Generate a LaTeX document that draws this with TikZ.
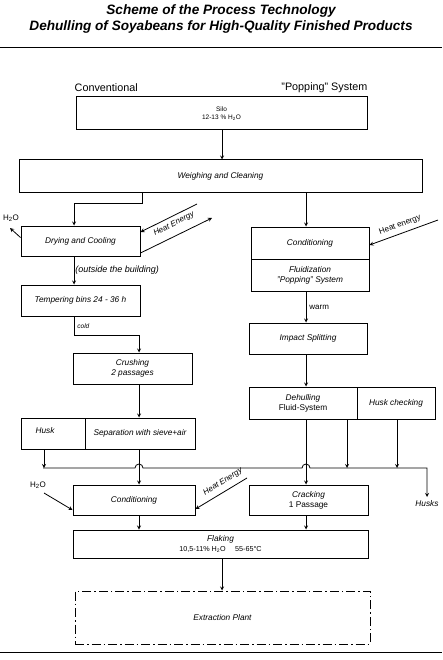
\documentclass[tikz,border=0pt]{standalone}
\usepackage{fontspec}
\setmainfont{Liberation Sans}
\usetikzlibrary{arrows,positioning,calc}

\begin{document}
\begin{tikzpicture}[>=stealth, x=1pt, y=-1pt, line width=0.8pt,
  box/.style={draw, line width=1pt, inner sep=1pt, align=center,
              font=\fontsize{8.3}{10}\selectfont\itshape},
  lbl/.style={inner sep=1pt, font=\fontsize{8.3}{10}\selectfont\itshape},
  uplbl/.style={inner sep=1pt, font=\fontsize{8}{10}\selectfont}]
\useasboundingbox (0,0) rectangle (442,660);

% title
\node[align=center, font=\fontsize{13.6}{16}\selectfont\bfseries\itshape] (title) at (221,19)
  {Scheme of the Process Technology\\Dehulling of Soyabeans for High-Quality Finished Products};
\draw[line width=1pt] (0,48) -- (442,48);
\draw[line width=1pt] (0,652) -- (442,652);

\node[anchor=west, font=\fontsize{10.8}{12}\selectfont] (conv) at (71,88) {Conventional};
\node[anchor=east, font=\fontsize{10.8}{12}\selectfont] (pop) at (371,88) {"Popping" System};

% boxes
\node[box,minimum width=291,minimum height=33,font=\fontsize{6.5}{8.5}\selectfont] (silo) at (221.5,113.5) {Silo\\12-13 \% H\textsubscript{2}O};
\node[box,minimum width=403,minimum height=33] (weigh) at (220.5,176.5) {Weighing and Cleaning};

\node[box,minimum width=119,minimum height=30] (dry) at (80.5,241) {Drying and Cooling};
\node[box,minimum width=119,minimum height=31] (temper) at (80.5,300.5) {Tempering bins 24 - 36 h};
\node[box,minimum width=119,minimum height=31] (crush) at (132.5,368.5) {Crushing\\2 passages};
\node[box,minimum width=64,minimum height=31] (husk) at (53,433.5) {\raisebox{6pt}{Husk}\hspace{16pt}};
\node[box,minimum width=110,minimum height=31] (sep) at (140,433.5) {Separation with sieve+air};

\node[box,minimum width=118,minimum height=32] (cond) at (310,243) {Conditioning};
\node[box,minimum width=118,minimum height=32] (fluid) at (310,275) {Fluidization\\"Popping" System};
\node[box,minimum width=118,minimum height=31] (impact) at (308,338.5) {Impact Splitting};
\node[box,minimum width=108,minimum height=32] (dehull) at (303,403) {Dehulling\\\upshape Fluid-System};
\node[box,minimum width=78,minimum height=32] (check) at (396,403) {Husk checking};

\node[box,minimum width=122,minimum height=30] (cond2) at (134,500) {Conditioning};
\node[box,minimum width=119,minimum height=30] (crack) at (308.5,500) {Cracking\\\upshape 1 Passage};
\node[box,minimum width=295,minimum height=28] (flake) at (220.5,544)
  {Flaking\\\upshape\fontsize{7.2}{9}\selectfont 10,5-11\% H\textsubscript{2}O\hspace{1.3em}55-65°C};
\node[box,minimum width=295,minimum height=53,dash pattern=on 9pt off 3pt on 1.5pt off 3pt] (extract) at (222.5,617.5) {Extraction Plant};

% column lines and free ends
\coordinate (mx) at (222,0);
\coordinate (lx) at (139,0);
\coordinate (rx) at (306,0);
\coordinate (wx) at (142,0);
\coordinate (dx) at (74,0);
\coordinate (hx) at (44,0);
\coordinate (d1) at (347,0);
\coordinate (d2) at (397,0);
\coordinate (heatR) at (438,220);
\coordinate (h2oD) at (10,228);
\coordinate (heatDin) at (197,204);
\coordinate (heatDout) at (212,218);
\coordinate (busL) at (43,468);
\coordinate (busR) at (427,468);
\coordinate (husksEnd) at (427,497);
\coordinate (h2oC) at (44,493);
\coordinate (heatC) at (247,478);

% upper part
\draw[->] (silo.south -| mx) -- (weigh.north -| mx);
\draw[->] (weigh.south -| wx) -- ++(0,10) -| (dry.north -| dx);
\draw[->] (weigh.south -| rx) -- (cond.north -| rx);
\draw[->] (heatR) -- ([yshift=-2pt]cond.east);
\node[uplbl,rotate=20] (heatRlbl) at (400,225) {Heat energy};

\draw[->] ([yshift=-12pt]dry.north west) -- (h2oD);
\node[uplbl] (h2oDlbl) at (11,218) {H\textsubscript{2}O};
\draw[->] (heatDin) -- ([yshift=9pt]dry.east);
\draw[->] ([yshift=-12pt]dry.east) -- (heatDout);
\node[lbl,rotate=27,font=\fontsize{8}{10}\selectfont\itshape] (heatDlbl) at (174,224) {Heat Energy};

\draw[->] (dry.south -| dx) -- (temper.north -| dx)
  node[lbl,midway,right,font=\fontsize{9}{10}\selectfont\itshape] (outside) {(outside the building)};
\draw[->] (temper.south -| dx) -- ++(0,19) -| (crush.north -| lx);
\node[lbl,anchor=west,font=\fontsize{6.5}{8}\selectfont\itshape] (cold) at (76,326) {cold};
\draw[->] (crush.south -| lx) -- (sep.north -| lx);

\draw[->] (fluid.south -| rx) -- (impact.north -| rx)
  node[uplbl,midway,right,xshift=2pt] (warm) {warm};
\draw[->] (impact.south -| rx) -- (dehull.north -| rx);

% husk collection line
\draw[->] (busL) -- ([xshift=-4pt]lx |- busL) arc[start angle=180,end angle=360,radius=4]
  -- ([xshift=-4pt]rx |- busL) arc[start angle=180,end angle=360,radius=4]
  -- (busR) -- (husksEnd);
\node[lbl,below=2pt] (husks) at (husksEnd) {Husks};
\draw[->] (husk.south -| hx) -- (hx |- busL);
\draw[->] (dehull.south -| d1) -- (d1 |- busL);
\draw[->] (check.south -| d2) -- (d2 |- busL);
\draw[->] (sep.south -| lx) -- (cond2.north -| lx);
\draw[->] (dehull.south -| rx) -- (crack.north -| rx);

% lower part
\draw[->] (h2oC) -- ([yshift=-10pt]cond2.west);
\node[uplbl] (h2oClbl) at (38,485) {H\textsubscript{2}O};
\draw[->] (heatC) -- ([yshift=-9pt]cond2.east);
\node[lbl,rotate=32,font=\fontsize{8}{10}\selectfont\itshape] (heatClbl) at (223,482) {Heat Energy};

\draw[->] (cond2.south -| lx) -- (flake.north -| lx);
\draw[->] (crack.south -| rx) -- (flake.north -| rx);
\draw[->] (flake.south -| mx) -- (extract.north -| mx);
\end{tikzpicture}
\end{document}
